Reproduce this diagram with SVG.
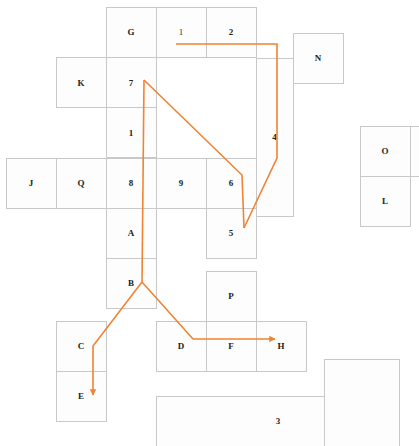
<svg xmlns="http://www.w3.org/2000/svg" width="419" height="446" viewBox="0 0 419 446">
<defs>
<style>
.n rect{fill:#fdfdfd;stroke:#c8c8c8;stroke-width:1}
.n text{font-family:"Liberation Serif","Times New Roman",serif;font-size:9px;font-weight:bold;fill:#222;text-anchor:middle;dominant-baseline:central}
.e{fill:none;stroke:#ef8434;stroke-width:1.6;stroke-linejoin:miter}
</style>
<marker id="ah" viewBox="0 0 10 10" refX="9" refY="5" markerWidth="4" markerHeight="4" orient="auto" markerUnits="strokeWidth">
<path d="M0,0 L10,5 L0,10 z" fill="#ef8434"/>
</marker>
</defs>
<rect width="419" height="446" fill="#ffffff"/>
<g id="n4" class="n"><rect x="256.5" y="58.5" width="37" height="158"/><text x="274.5" y="137">4</text></g>
<g id="nG" class="n"><rect x="106.5" y="7.5" width="50" height="50"/><text x="131" y="32">G</text></g>
<g id="n1a" class="n"><rect x="156.5" y="7.5" width="50" height="50"/><text x="181" y="32" style="font-weight:normal;fill:#333">1</text></g>
<g id="n2" class="n"><rect x="206.5" y="7.5" width="50" height="50"/><text x="231" y="32">2</text></g>
<g id="nN" class="n"><rect x="293.5" y="33.5" width="50" height="50"/><text x="318" y="58">N</text></g>
<g id="nK" class="n"><rect x="56.5" y="57.5" width="50" height="50"/><text x="81" y="83">K</text></g>
<g id="n7" class="n"><rect x="106.5" y="57.5" width="50" height="50"/><text x="131" y="83">7</text></g>
<g id="n1b" class="n"><rect x="106.5" y="107.5" width="50" height="50"/><text x="131" y="133">1</text></g>
<g id="nJ" class="n"><rect x="6.5" y="158.5" width="50" height="50"/><text x="31" y="183">J</text></g>
<g id="nQ" class="n"><rect x="56.5" y="158.5" width="50" height="50"/><text x="81" y="183">Q</text></g>
<g id="n8" class="n"><rect x="106.5" y="158.5" width="50" height="50"/><text x="131" y="183">8</text></g>
<g id="n9" class="n"><rect x="156.5" y="158.5" width="50" height="50"/><text x="181" y="183">9</text></g>
<g id="n6" class="n"><rect x="206.5" y="158.5" width="50" height="50"/><text x="231" y="183">6</text></g>
<g id="nA" class="n"><rect x="106.5" y="208.5" width="50" height="50"/><text x="131" y="233">A</text></g>
<g id="n5" class="n"><rect x="206.5" y="208.5" width="50" height="50"/><text x="231" y="233">5</text></g>
<g id="nB" class="n"><rect x="106.5" y="258.5" width="50" height="50"/><text x="131" y="283">B</text></g>
<g id="nP" class="n"><rect x="206.5" y="271.5" width="50" height="50"/><text x="231" y="296">P</text></g>
<g id="nC" class="n"><rect x="56.5" y="321.5" width="50" height="50"/><text x="81" y="346">C</text></g>
<g id="nD" class="n"><rect x="156.5" y="321.5" width="50" height="50"/><text x="181" y="346">D</text></g>
<g id="nF" class="n"><rect x="206.5" y="321.5" width="50" height="50"/><text x="231" y="346">F</text></g>
<g id="nH" class="n"><rect x="256.5" y="321.5" width="50" height="50"/><text x="281" y="346">H</text></g>
<g id="nE" class="n"><rect x="56.5" y="371.5" width="50" height="50"/><text x="81" y="396">E</text></g>
<g id="nO" class="n"><rect x="360.5" y="126.5" width="50" height="50"/><text x="385" y="151">O</text></g>
<g id="nL" class="n"><rect x="360.5" y="176.5" width="50" height="50"/><text x="385" y="201">L</text></g>
<g id="nR" class="n"><rect x="410.5" y="126.5" width="50" height="50"/></g>
<g id="n3" class="n"><rect x="156.5" y="396.5" width="243" height="60"/><text x="278" y="421">3</text></g>
<g id="nW" class="n"><rect x="324.5" y="359.5" width="75" height="100"/><rect x="325" y="378" width="74" height="70" style="stroke:none"/></g>
<g id="edges">
<polyline class="e" points="176,44 277,44 277,158 244,228"/>
<polyline class="e" points="144,80 242,175 244,228"/>
<polyline class="e" points="144,80 142,282"/>
<polyline class="e" points="142,282 93,346 93,395" marker-end="url(#ah)"/>
<polyline class="e" points="142,282 193,339 275,339" marker-end="url(#ah)"/>
</g>
</svg>
